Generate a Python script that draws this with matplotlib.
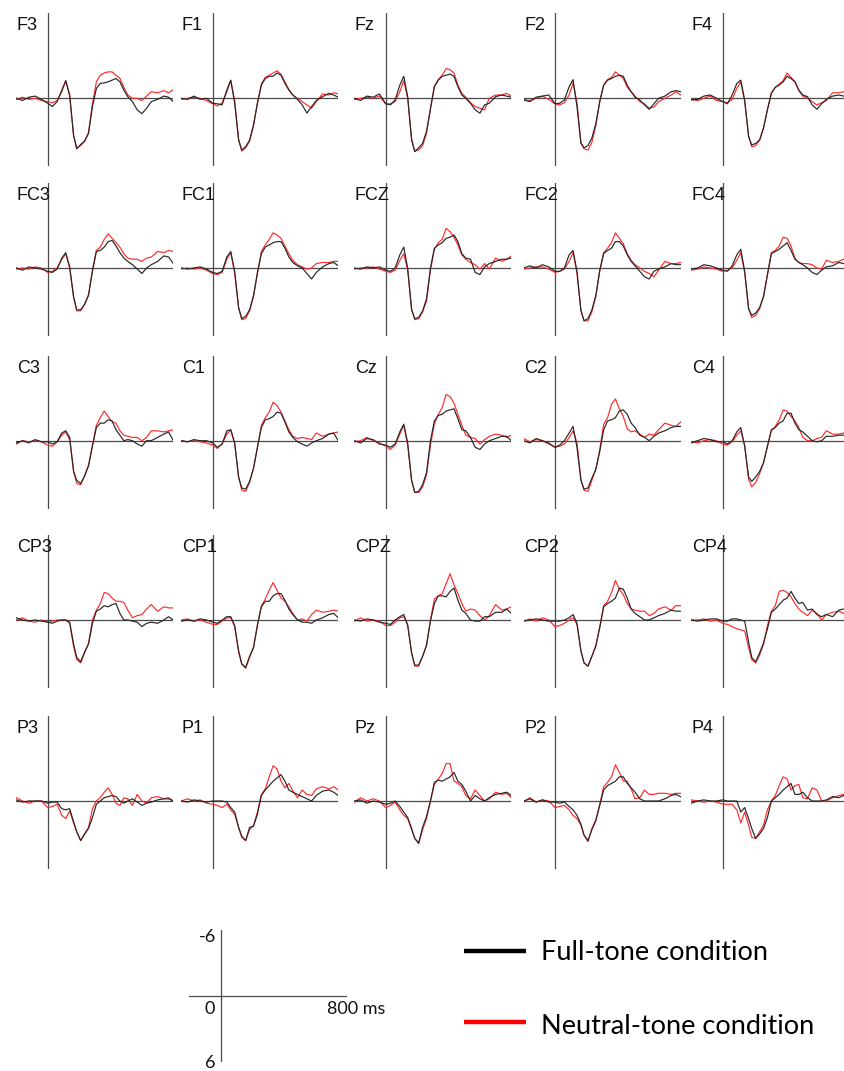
import matplotlib
matplotlib.use("Agg")
import matplotlib.pyplot as plt

# sample times (ms) shared by every trace
times = [-200, -160, -120, -80, -40, 0, 30, 60, 90, 115, 140, 165, 185, 210, 235,
         260, 285, 310, 335, 360, 385, 410, 435, 460, 485, 510, 540, 570, 600, 630,
         660, 700, 740, 770, 800]

# amplitudes in microvolts (negative plotted up)
F3_full = [0.0, 0.2, -0.1, -0.2, 0.1, 0.45, 0.75, 0.3, -0.75, -1.6, -0.3, 3.4, 4.6, 4.2, 3.9, 3.2, 0.75, -0.9, -1.35, -1.4, -1.5, -1.65, -1.8, -1.5, -0.75, -0.15, 0.3, 1.05, 1.4, 0.9, 0.3, 0.1, -0.2, -0.1, 0.3]
F3_neutral = [0.1, -0.1, 0.1, 0.0, 0.2, 0.3, 0.4, 0.2, -0.6, -1.6, -0.2, 3.4, 4.5, 4.3, 3.9, 3.1, 0.5, -1.5, -2.1, -2.3, -2.4, -2.4, -2.1, -1.8, -1.0, -0.3, 0.0, 0.0, 0.2, -0.2, -0.6, -0.5, -0.7, -0.5, -0.8]
F1_full = [0.0, 0.1, -0.2, 0.1, 0.0, 0.45, 0.5, 0.6, -0.75, -1.65, 0.45, 3.8, 4.7, 4.4, 3.8, 2.4, 0.45, -1.2, -1.8, -2.0, -2.0, -2.3, -2.1, -1.35, -0.75, -0.3, 0.1, 0.6, 1.35, 0.75, 0.2, -0.15, -0.45, -0.3, -0.1]
F1_neutral = [0.1, 0.0, -0.1, 0.0, 0.2, 0.5, 0.7, 0.4, -0.6, -1.6, 0.2, 3.7, 4.8, 4.5, 3.9, 2.5, 0.4, -1.3, -1.9, -2.1, -2.3, -2.5, -2.2, -1.5, -0.8, -0.3, 0.0, 0.3, 0.6, 0.9, 0.3, -0.4, -0.3, -0.5, -0.4]
Fz_full = [0.0, 0.2, -0.2, -0.1, -0.4, 0.5, 0.6, 0.15, -1.2, -2.0, -0.15, 3.8, 4.85, 4.5, 4.1, 3.0, 1.0, -1.05, -1.65, -2.0, -2.1, -2.2, -2.0, -1.05, -0.3, 0.0, 0.45, 1.05, 1.35, 0.6, 0.45, -0.15, -0.3, -0.2, -0.1]
Fz_neutral = [0.1, 0.0, -0.1, 0.0, -0.2, 0.5, 0.5, 0.3, -0.6, -1.6, 0.0, 3.7, 4.8, 4.7, 4.3, 3.2, 0.9, -1.1, -1.7, -2.1, -2.7, -2.6, -2.3, -1.2, -0.45, -0.1, 0.4, 0.75, 0.9, 1.05, 0.0, -0.3, -0.3, -0.45, -0.2]
F2_full = [0.15, 0.3, -0.1, -0.2, -0.3, 0.5, 0.45, 0.15, -1.05, -1.7, 0.75, 4.1, 4.5, 4.3, 3.6, 2.3, 0.3, -1.2, -1.65, -1.8, -2.0, -2.1, -2.0, -1.2, -0.6, -0.1, 0.15, 0.6, 1.0, 0.5, 0.0, -0.2, -0.6, -0.7, -0.6]
F2_neutral = [0.1, 0.2, 0.0, -0.2, 0.1, 0.5, 0.6, 0.4, -0.3, -1.4, 0.4, 4.0, 4.6, 4.7, 4.0, 2.5, 0.3, -1.2, -1.7, -1.9, -2.4, -2.1, -1.8, -1.0, -0.6, -0.2, 0.3, 0.5, 0.9, 0.8, 0.3, 0.0, -0.3, -0.6, -0.3]
F4_full = [0.15, 0.1, -0.2, -0.3, 0.0, 0.3, 0.5, -0.3, -1.35, -1.65, 0.15, 3.5, 4.25, 4.1, 3.8, 2.7, 1.05, -0.45, -1.0, -1.2, -1.5, -2.0, -1.8, -1.5, -0.75, -0.3, -0.15, 0.6, 1.0, 0.5, 0.1, -0.2, -0.3, -0.2, -0.2]
F4_neutral = [0.1, 0.2, 0.0, -0.2, 0.2, 0.3, 0.4, 0.1, -0.9, -1.5, 0.3, 3.4, 4.4, 4.3, 3.8, 2.7, 1.0, -0.5, -1.0, -1.3, -1.6, -2.3, -1.9, -1.5, -0.7, -0.2, 0.0, 0.3, 0.6, 0.4, 0.2, -0.5, -0.5, -0.6, -0.6]

FC3_full = [0.0, 0.2, -0.1, 0.0, 0.1, 0.3, 0.4, 0.1, -0.9, -1.4, -0.1, 2.6, 3.8, 3.8, 3.3, 2.5, 0.3, -1.5, -1.6, -1.9, -2.4, -2.5, -2.0, -1.4, -0.9, -0.6, -0.3, 0.1, 0.5, 0.0, -0.3, -0.6, -1.1, -1.0, -0.4]
FC3_neutral = [0.1, 0.0, 0.1, -0.1, 0.0, 0.4, 0.3, 0.0, -0.8, -1.3, 0.0, 2.7, 3.9, 3.9, 3.3, 2.4, 0.2, -1.6, -1.9, -2.6, -3.1, -2.7, -2.3, -1.9, -1.3, -0.9, -0.8, -0.8, -0.6, -0.9, -1.0, -1.5, -1.4, -1.6, -1.5]
FC1_full = [0.0, 0.1, 0.0, -0.1, 0.1, 0.4, 0.5, 0.3, -1.0, -1.5, 0.3, 3.6, 4.6, 4.4, 3.8, 2.5, 0.4, -1.3, -1.9, -2.1, -2.3, -2.4, -2.4, -1.8, -1.0, -0.5, -0.2, 0.0, 0.5, 1.0, 0.4, -0.1, -0.4, -0.5, -0.2]
FC1_neutral = [0.1, 0.0, 0.1, 0.0, 0.2, 0.5, 0.6, 0.4, -0.8, -1.4, 0.5, 3.6, 4.7, 4.6, 3.9, 2.6, 0.5, -1.5, -2.1, -2.6, -3.2, -3.0, -2.7, -2.0, -1.3, -0.7, -0.3, -0.1, 0.1, 0.0, -0.4, -0.5, -0.5, -0.6, -0.6]
FCZ_full = [0.0, 0.1, -0.1, 0.0, -0.1, 0.2, 0.3, 0.0, -1.2, -1.9, 0.0, 3.8, 4.6, 4.5, 3.9, 2.8, 0.0, -1.8, -2.1, -2.3, -2.7, -2.8, -3.0, -2.4, -1.3, -0.9, -0.8, 0.4, 0.6, -0.1, -0.4, -0.6, -0.8, -0.8, -0.9]
FCZ_neutral = [0.1, 0.0, 0.0, -0.1, 0.1, 0.3, 0.4, 0.2, -0.7, -1.3, 0.2, 3.7, 4.7, 4.6, 4.0, 3.0, 0.2, -1.7, -2.3, -2.6, -3.6, -3.3, -2.8, -2.1, -1.2, -0.8, -0.5, -0.3, 0.1, -0.4, 0.1, -0.9, -0.6, -0.8, -1.1]
FC2_full = [0.0, -0.2, 0.0, -0.3, -0.1, 0.3, 0.3, 0.0, -1.2, -1.6, 0.3, 3.9, 4.8, 4.6, 3.8, 2.5, 0.2, -1.3, -1.6, -1.8, -2.4, -2.4, -2.0, -1.2, -0.6, -0.2, 0.3, 0.8, 1.0, 0.3, 0.1, -0.1, -0.4, -0.3, -0.3]
FC2_neutral = [0.1, 0.0, -0.1, -0.1, 0.1, 0.4, 0.3, 0.1, -0.6, -1.4, 0.5, 3.8, 4.8, 4.8, 4.0, 2.6, 0.3, -1.4, -1.8, -2.3, -3.2, -2.7, -2.2, -1.3, -0.7, -0.3, 0.0, 0.3, 0.5, 0.8, 0.2, -0.6, -0.4, -0.4, -0.5]
FC4_full = [0.1, 0.0, -0.3, -0.2, 0.0, 0.2, 0.3, -0.2, -1.2, -1.7, 0.3, 3.7, 4.3, 4.1, 3.6, 2.6, 0.6, -1.3, -1.5, -1.7, -2.0, -2.3, -1.6, -0.8, -0.5, -0.3, 0.0, 0.4, 0.6, 0.2, -0.1, -0.2, -0.5, -0.4, -0.4]
FC4_neutral = [0.2, 0.1, -0.1, 0.0, 0.1, 0.3, 0.2, 0.0, -0.7, -1.4, 0.4, 3.7, 4.5, 4.3, 3.7, 2.6, 0.6, -1.4, -1.6, -2.0, -2.8, -2.7, -2.0, -0.9, -0.5, -0.4, -0.4, -0.3, 0.0, 0.1, -0.7, -0.5, -0.6, -0.8, -0.9]

C3_full = [0.2, 0.0, 0.2, -0.1, 0.1, 0.1, 0.3, 0.1, -0.7, -0.9, -0.3, 2.8, 3.6, 3.9, 3.2, 2.3, 0.5, -1.2, -1.6, -1.6, -1.9, -1.8, -1.0, -0.5, 0.0, -0.1, 0.0, 0.3, 0.5, 0.0, 0.0, -0.3, -0.6, -0.8, 0.0]
C3_neutral = [0.3, 0.0, 0.1, 0.0, 0.1, 0.4, 0.5, 0.1, -0.5, -0.8, -0.1, 2.8, 3.9, 4.0, 3.2, 2.2, 0.4, -1.4, -2.1, -2.7, -2.2, -1.7, -1.6, -0.9, -0.5, -0.4, -0.3, -0.3, 0.0, -0.3, -0.9, -0.9, -0.8, -0.9, -1.0]
C1_full = [0.0, 0.1, -0.1, 0.0, 0.0, 0.2, 0.6, 0.3, -0.9, -1.0, 0.2, 3.3, 4.3, 4.4, 3.7, 2.5, 0.6, -1.2, -1.9, -2.0, -2.2, -2.6, -2.5, -1.7, -0.8, -0.3, 0.1, 0.3, 0.5, 0.2, 0.0, -0.2, -0.6, -0.7, 0.0]
C1_neutral = [0.0, 0.1, 0.0, 0.1, 0.2, 0.4, 0.7, 0.3, -0.6, -1.0, 0.3, 3.3, 4.5, 4.6, 3.8, 2.5, 0.6, -1.4, -2.1, -2.6, -3.5, -3.2, -2.6, -1.8, -1.0, -0.4, -0.2, -0.3, -0.2, -0.1, -0.7, -0.4, -0.6, -0.7, -0.8]
Cz_full = [0.0, 0.2, -0.2, -0.1, 0.3, 0.4, 0.6, 0.3, -0.8, -1.5, 0.2, 3.6, 4.7, 4.6, 4.0, 2.9, 0.0, -1.8, -2.3, -2.4, -2.7, -2.8, -2.9, -2.0, -1.0, -0.9, -0.3, 0.6, 0.8, 0.3, 0.0, -0.2, -0.4, -0.4, 0.0]
Cz_neutral = [0.1, 0.0, -0.3, 0.0, 0.2, 0.5, 0.8, 0.4, -0.6, -1.4, 0.4, 3.6, 4.7, 4.7, 4.2, 3.1, 0.4, -1.5, -2.4, -3.0, -4.2, -4.0, -3.4, -2.4, -1.4, -0.5, -0.3, -0.2, 0.3, -0.1, -0.4, -0.6, -0.5, -0.3, -0.5]
C2_full = [0.0, 0.2, -0.2, 0.0, 0.2, 0.6, 0.4, 0.0, -0.7, -1.3, 0.6, 3.6, 4.4, 4.3, 3.4, 2.6, 1.0, -1.0, -1.8, -1.9, -2.1, -2.7, -2.8, -2.4, -1.6, -1.2, -0.5, -0.3, 0.0, -0.4, -0.7, -0.9, -1.2, -1.3, -1.3]
C2_neutral = [-0.2, 0.1, -0.1, 0.0, 0.3, 0.6, 0.5, 0.3, -0.3, -0.9, 0.2, 3.5, 4.5, 4.6, 3.6, 2.6, 0.8, -1.5, -2.1, -3.3, -3.8, -2.9, -2.2, -1.1, -0.8, -0.9, -0.6, -0.3, -0.6, -0.5, -1.0, -1.6, -1.4, -1.3, -1.7]
C4_full = [0.2, 0.0, -0.2, -0.1, 0.1, 0.1, 0.3, 0.0, -0.8, -1.2, 0.5, 3.3, 3.7, 3.3, 2.8, 2.0, 0.5, -1.0, -1.2, -1.6, -1.8, -2.5, -2.5, -1.6, -1.0, -0.8, -0.4, 0.0, 0.1, 0.0, -0.4, -0.4, -0.5, -0.5, -0.5]
C4_neutral = [0.1, 0.2, 0.0, -0.1, 0.0, 0.3, 0.4, 0.1, -0.5, -0.9, 0.4, 3.5, 4.2, 3.8, 3.0, 2.0, 0.5, -0.9, -1.3, -1.9, -2.8, -2.7, -2.2, -1.8, -1.2, -0.3, 0.0, 0.0, -0.2, -0.3, -0.9, -0.6, -0.6, -0.7, -0.5]

CP3_full = [-0.2, 0.0, 0.1, 0.0, 0.1, 0.2, 0.3, 0.1, 0.0, 0.0, 0.2, 2.2, 3.4, 3.8, 2.9, 2.2, 0.3, -0.8, -1.0, -1.3, -1.2, -1.4, -1.5, -0.6, 0.0, 0.0, 0.1, 0.2, 0.6, 0.3, 0.2, 0.3, 0.0, -0.3, 0.0]
CP3_neutral = [0.0, -0.2, 0.1, 0.2, 0.0, 0.2, 0.1, 0.0, 0.0, 0.0, 0.3, 2.4, 3.6, 3.9, 3.0, 2.1, 0.0, -0.9, -1.5, -2.5, -2.4, -2.0, -1.7, -1.7, -1.6, -0.9, -0.2, -0.4, -0.5, -1.0, -1.4, -0.8, -1.2, -1.1, -1.1]
CP1_full = [0.1, 0.0, 0.1, -0.1, 0.0, 0.2, 0.3, 0.0, -0.3, -0.3, 0.5, 2.8, 4.0, 4.3, 3.3, 2.5, 0.5, -1.2, -1.7, -1.7, -2.2, -2.4, -2.4, -1.8, -1.0, -0.5, 0.0, 0.2, 0.2, 0.3, 0.0, -0.2, -0.5, -0.6, -0.2]
CP1_neutral = [0.0, -0.1, 0.1, 0.0, 0.2, 0.4, 0.4, 0.1, -0.2, -0.2, 0.6, 2.9, 4.0, 4.4, 3.4, 2.5, 0.4, -1.3, -1.9, -2.7, -3.4, -2.7, -2.0, -1.7, -1.2, -0.6, 0.0, -0.1, 0.1, -0.5, -0.9, -0.7, -0.8, -0.9, -0.8]
CPZ_full = [0.0, 0.1, -0.1, 0.0, 0.2, 0.3, 0.4, 0.0, -0.3, -0.5, 0.5, 3.0, 4.1, 4.1, 3.3, 2.3, 0.1, -1.5, -2.2, -2.2, -2.1, -2.6, -2.9, -1.8, -0.9, -0.6, 0.0, 0.1, 0.1, -0.3, -0.3, -0.7, -0.7, -1.0, -0.6]
CPZ_neutral = [0.1, -0.2, 0.1, 0.0, 0.1, 0.5, 0.5, 0.2, -0.2, -0.3, 0.4, 3.0, 4.2, 4.2, 3.3, 2.3, 0.0, -1.9, -2.2, -2.4, -3.3, -4.2, -3.2, -2.4, -1.5, -0.8, -1.0, -0.9, -0.4, 0.0, -0.4, -1.4, -0.9, -1.0, -1.2]
CP2_full = [0.1, 0.0, -0.1, 0.0, 0.1, 0.1, 0.1, 0.0, -0.2, -0.5, 0.3, 2.8, 3.9, 4.2, 3.3, 2.4, 0.7, -1.2, -1.5, -1.7, -2.0, -2.9, -2.8, -2.0, -1.0, -0.6, -0.3, 0.0, 0.0, -0.2, -0.4, -0.6, -0.9, -0.8, -0.8]
CP2_neutral = [0.1, -0.1, 0.1, -0.2, 0.0, 0.6, 0.5, 0.3, 0.0, -0.2, 0.4, 2.8, 3.9, 4.2, 3.3, 2.3, 0.6, -1.3, -1.7, -2.5, -3.6, -2.8, -2.3, -1.5, -1.0, -0.9, -0.8, -0.8, -0.4, -0.6, -1.0, -1.2, -0.9, -1.3, -1.3]
CP4_full = [0.0, 0.1, 0.0, -0.1, -0.1, 0.1, 0.1, -0.1, -0.1, 0.0, 0.1, 2.0, 3.4, 3.8, 3.0, 2.1, 0.8, -0.7, -1.0, -1.4, -1.8, -2.0, -2.6, -2.0, -1.5, -1.6, -0.9, -1.0, -0.5, -0.3, -0.5, -0.3, -0.9, -1.0, -1.0]
CP4_neutral = [0.0, 0.0, -0.1, 0.1, 0.0, 0.3, 0.4, 0.6, 0.8, 0.9, 1.0, 2.5, 3.6, 3.9, 3.2, 2.2, 0.5, -0.8, -1.3, -2.6, -2.7, -2.5, -2.1, -1.5, -1.0, -0.7, -0.4, -0.9, -0.6, 0.0, -0.5, -0.7, -0.8, -0.6, -0.8]

P3_full = [-0.1, 0.1, 0.0, 0.0, 0.0, 0.2, 0.1, 0.1, 0.7, 0.8, 0.7, 1.9, 2.8, 3.6, 3.0, 2.5, 1.5, 0.3, 0.0, -0.3, -0.4, -0.5, -0.4, 0.0, 0.2, 0.0, -0.2, 0.1, 0.4, 0.2, 0.1, -0.1, -0.2, -0.2, 0.0]
P3_neutral = [-0.3, 0.0, 0.2, 0.0, 0.0, 0.6, 0.5, 0.3, 1.3, 1.6, 0.9, 2.0, 2.8, 3.6, 3.0, 2.4, 0.7, 0.0, -0.3, -0.8, -1.2, -0.6, 0.2, 0.4, -0.3, -0.2, 0.4, -0.6, 0.0, 0.2, -0.3, -0.4, -0.2, -0.3, 0.0]
P1_full = [0.0, 0.1, -0.1, 0.0, 0.1, 0.0, 0.0, 0.0, 0.1, 0.6, 1.0, 2.4, 3.2, 3.6, 2.4, 2.3, 1.2, -0.5, -1.0, -1.4, -1.8, -2.1, -2.4, -1.8, -1.0, -0.8, -0.6, -0.4, -0.2, 0.0, -0.5, -0.9, -1.0, -0.8, -0.5]
P1_neutral = [0.0, -0.2, 0.0, -0.1, 0.2, 0.3, 0.4, 0.6, 0.3, 0.8, 1.2, 2.4, 3.3, 3.6, 2.6, 2.2, 1.0, -0.6, -1.1, -2.2, -3.2, -2.9, -1.8, -1.2, -1.6, -0.9, -0.3, -1.0, -0.6, -0.5, -1.1, -1.3, -1.1, -1.3, -1.0]
Pz_full = [0.0, -0.1, 0.2, 0.0, 0.1, 0.3, 0.2, 0.0, 0.5, 1.0, 1.5, 2.5, 3.4, 3.8, 2.4, 1.4, 0.0, -1.7, -1.9, -1.8, -2.0, -2.2, -2.6, -1.8, -1.5, -0.9, 0.0, -0.5, -0.2, 0.0, -0.3, -0.6, -0.7, -0.8, -0.5]
Pz_neutral = [0.1, -0.3, 0.0, -0.2, 0.0, 0.6, 0.4, 0.1, 0.8, 1.3, 1.6, 2.6, 3.4, 3.9, 2.6, 1.6, 0.0, -1.5, -2.0, -2.5, -3.4, -3.4, -1.8, -1.6, -1.3, -0.5, -0.2, -1.0, -0.5, 0.0, -0.2, -0.8, -0.6, -0.7, -0.3]
P2_full = [0.0, -0.2, 0.1, -0.1, 0.1, 0.1, 0.2, 0.1, 0.5, 0.8, 1.3, 2.1, 3.1, 3.6, 2.6, 1.8, 0.4, -1.0, -1.4, -1.6, -1.8, -2.2, -2.2, -1.6, -1.2, -0.8, -0.2, 0.0, 0.0, 0.0, 0.0, -0.2, -0.5, -0.6, -0.4]
P2_neutral = [0.1, -0.3, 0.1, -0.1, 0.0, 0.6, 0.5, 0.4, 0.8, 1.3, 1.6, 2.2, 3.1, 3.7, 2.5, 1.7, 0.3, -1.3, -1.7, -2.2, -3.3, -2.6, -1.8, -1.8, -1.1, -0.2, -0.3, -1.0, -0.6, -0.6, -0.7, -0.7, -0.6, -0.7, -0.7]
P4_full = [0.2, 0.0, -0.1, 0.0, 0.0, -0.1, 0.0, 0.0, 0.0, 1.0, 0.6, 1.6, 2.5, 3.4, 3.0, 2.5, 1.5, 0.0, -0.3, -0.6, -1.0, -1.3, -1.6, -0.6, -0.6, -0.8, -0.3, 0.0, 0.0, 0.0, -0.1, -0.4, -0.3, -0.5, -0.4]
P4_neutral = [-0.1, 0.0, 0.1, 0.0, 0.1, 0.3, 0.3, 0.3, 0.8, 2.0, 1.0, 2.2, 3.3, 3.4, 2.8, 2.2, 0.8, 0.0, -0.5, -1.4, -2.2, -2.0, -1.0, -1.4, -1.5, -0.3, -0.2, -1.2, -1.0, 0.0, 0.0, -0.3, -0.5, -0.6, -0.5]

channels = [
    ["F3", "F1", "Fz", "F2", "F4"],
    ["FC3", "FC1", "FCZ", "FC2", "FC4"],
    ["C3", "C1", "Cz", "C2", "C4"],
    ["CP3", "CP1", "CPZ", "CP2", "CP4"],
    ["P3", "P1", "Pz", "P2", "P4"],
]
full_tone = {
    "F3": F3_full, "F1": F1_full, "Fz": Fz_full, "F2": F2_full, "F4": F4_full,
    "FC3": FC3_full, "FC1": FC1_full, "FCZ": FCZ_full, "FC2": FC2_full, "FC4": FC4_full,
    "C3": C3_full, "C1": C1_full, "Cz": Cz_full, "C2": C2_full, "C4": C4_full,
    "CP3": CP3_full, "CP1": CP1_full, "CPZ": CPZ_full, "CP2": CP2_full, "CP4": CP4_full,
    "P3": P3_full, "P1": P1_full, "Pz": Pz_full, "P2": P2_full, "P4": P4_full,
}
neutral_tone = {
    "F3": F3_neutral, "F1": F1_neutral, "Fz": Fz_neutral, "F2": F2_neutral, "F4": F4_neutral,
    "FC3": FC3_neutral, "FC1": FC1_neutral, "FCZ": FCZ_neutral, "FC2": FC2_neutral, "FC4": FC4_neutral,
    "C3": C3_neutral, "C1": C1_neutral, "Cz": Cz_neutral, "C2": C2_neutral, "C4": C4_neutral,
    "CP3": CP3_neutral, "CP1": CP1_neutral, "CPZ": CPZ_neutral, "CP2": CP2_neutral, "CP4": CP4_neutral,
    "P3": P3_neutral, "P1": P1_neutral, "Pz": Pz_neutral, "P2": P2_neutral, "P4": P4_neutral,
}
legend_labels = ["Full-tone condition", "Neutral-tone condition"]

# layout, in pixels of the 845 x 1071 picture
W, H = 845, 1071
col_left = [16.3, 181.3, 354.3, 523.6, 691.3]
row_zero = [98.3, 268, 440.7, 620, 801]
panel_w = 157
px_uv = 11.0          # pixels per microvolt
above, below = 85, 68  # axis extent above / below zero line
AX_COL = "#4a4a4a"
BLACK = "#262626"
RED = "#ff2a2a"

fig = plt.figure(figsize=(W / 100, H / 100), dpi=100)


def px_axes(left, top, width, height):
    return fig.add_axes([left / W, 1 - (top + height) / H, width / W, height / H])


for r, row in enumerate(channels):
    for c, name in enumerate(row):
        ax = px_axes(col_left[c], row_zero[r] - above, panel_w, above + below)
        ax.set_xlim(-200, 800)
        ax.set_ylim(below / px_uv, -above / px_uv)
        ax.axis("off")
        ax.axhline(0, color=AX_COL, lw=0.9)
        ax.axvline(0, color=AX_COL, lw=0.9)
        ax.plot(times, neutral_tone[name], color=RED, lw=0.85)
        ax.plot(times, full_tone[name], color=BLACK, lw=0.85)
        ax.text(-196, -81 / px_uv, name, ha="left", va="top", fontsize=13,
                family="Liberation Sans", color="#111111")

# scale bar
sb = px_axes(189.3, 930, 157.4, 132)
sb.set_xlim(-200, 800)
sb.set_ylim(6, -6)
sb.axis("off")
sb.axhline(0, color=AX_COL, lw=0.9)
sb.axvline(0, color=AX_COL, lw=0.9)
lab = dict(fontsize=13, family="Lato", color="#111111")
sb.text(-30, -5.4, "-6", ha="right", va="center", **lab)
sb.text(-70, 1.2, "0", ha="center", va="center", **lab)
sb.text(860, 1.2, "800 ms", ha="center", va="center", **lab)
sb.text(-70, 6.1, "6", ha="center", va="center", **lab)

# legend drawn in pixel coordinates
lg = fig.add_axes([0, 0, 1, 1])
lg.set_xlim(0, W)
lg.set_ylim(H, 0)
lg.axis("off")
lg.plot([464, 526], [951, 951], color="black", lw=3.2, solid_capstyle="butt")
lg.plot([464, 526], [1022, 1022], color="red", lw=3.2, solid_capstyle="butt")
lg.text(541, 953, legend_labels[0], ha="left", va="center", fontsize=19.5, family="Lato")
lg.text(541, 1026, legend_labels[1], ha="left", va="center", fontsize=19.5, family="Lato")

fig.savefig("out.png", dpi=100, facecolor="white")
